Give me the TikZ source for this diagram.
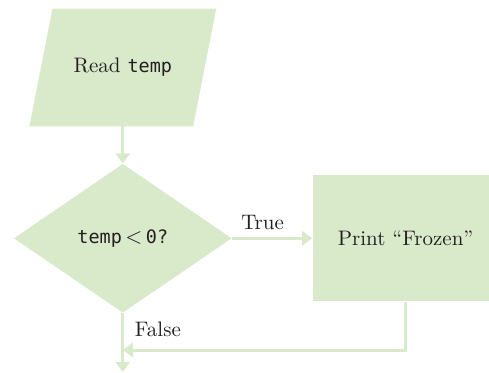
\documentclass[tikz,border=0pt]{standalone}
\usepackage{fontspec}
\setmonofont[Scale=0.88]{DejaVu Sans Mono}
\usepackage{tikz}
\usetikzlibrary{arrows.meta,positioning,shapes.geometric,backgrounds}
\definecolor{ChartGreen}{HTML}{D9EACB}
\definecolor{ChartInk}{HTML}{231F20}
\tikzset{
  iobox/.style={rectangle,draw=none,text=ChartInk,
    minimum width=81.5pt,minimum height=58.5pt,font=\fontsize{10.5}{12}\selectfont},
  decision/.style={diamond,fill=ChartGreen,draw=none,text=ChartInk,inner sep=0pt,
    minimum width=109pt,minimum height=74.5pt,font=\fontsize{10.5}{12}\selectfont},
  process/.style={rectangle,fill=ChartGreen,draw=none,text=ChartInk,
    minimum width=93pt,minimum height=63pt,font=\fontsize{10.5}{12}\selectfont},
  flow/.style={-{Triangle[length=5pt,width=7pt]},line width=1.5pt,draw=ChartGreen},
  edgelabel/.style={text=ChartInk,font=\fontsize{10.5}{12}\selectfont}
}
\begin{document}
\begin{tikzpicture}
  \useasboundingbox (0,0) rectangle (244.5pt,186pt);
  \node[iobox] (read) at (61.4pt,152.25pt) {Read \texttt{temp}};
  \begin{scope}[on background layer]
    \fill[ChartGreen] ([xshift=-5.75pt]read.south west) -- ([xshift=-5.75pt]read.south east)
      -- ([xshift=5.75pt]read.north east) -- ([xshift=5.75pt]read.north west) -- cycle;
  \end{scope}
  \node[decision,below=18.5pt of read] (test) {\texttt{temp}\,$<$\,\texttt{0?}};
  \node[process,right=40pt of test] (frozen) {Print ``Frozen''};
  \coordinate (join) at (test.center |- 0,11pt);
  \coordinate (exit) at (test.center |- 0,0pt);
  \draw[flow] (read) -- (test);
  \draw[flow] (test) -- node[edgelabel,above,pos=0.38] {True} (frozen);
  \draw[flow] (frozen.south) |- (join);
  \draw[flow] (test) -- node[edgelabel,right,pos=0.27,xshift=2pt] {False} (exit);
\end{tikzpicture}
\end{document}
